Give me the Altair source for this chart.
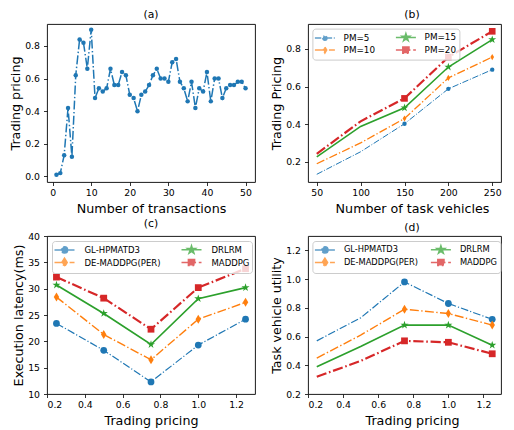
import altair as alt
import pandas as pd
import math

FONT = "DejaVu Sans"
BLUE, ORANGE, GREEN, RED = "#1f77b4", "#ff7f0e", "#2ca02c", "#d62728"

# ---------------- data ----------------
a_x = list(range(1, 51))
a_y = [0.01, 0.02, 0.13, 0.42, 0.12, 0.62, 0.84, 0.82, 0.66, 0.90,
       0.48, 0.54, 0.52, 0.54, 0.66, 0.56, 0.56, 0.64, 0.62, 0.50,
       0.48, 0.40, 0.50, 0.52, 0.56, 0.62, 0.66, 0.60, 0.60, 0.58,
       0.70, 0.72, 0.58, 0.54, 0.46, 0.58, 0.42, 0.54, 0.52, 0.64,
       0.46, 0.60, 0.60, 0.48, 0.54, 0.56, 0.56, 0.58, 0.58, 0.54]

b_x = [50, 100, 150, 200, 250]
b_names = ["PM=5", "PM=10", "PM=15", "PM=20"]
b_pm5 = [0.133, 0.253, 0.402, 0.588, 0.690]
b_pm10 = [0.189, 0.300, 0.430, 0.646, 0.757]
b_pm15 = [0.226, 0.388, 0.487, 0.704, 0.850]
b_pm20 = [0.242, 0.415, 0.537, 0.757, 0.894]

c_x = [0.25, 0.5, 0.75, 1.0, 1.25]
methods = ["GL-HPMATD3", "DE-MADDPG(PER)", "DRLRM", "MADDPG"]
c_gl = [23.4, 18.3, 12.3, 19.3, 24.2]
c_de = [28.4, 21.3, 16.5, 24.2, 27.4]
c_drl = [30.7, 25.3, 19.4, 28.1, 30.2]
c_mad = [32.2, 28.2, 22.3, 30.2, 33.8]

d_x = [0.25, 0.5, 0.75, 1.0, 1.25]
d_gl = [0.57, 0.73, 0.98, 0.83, 0.72]
d_de = [0.45, 0.61, 0.79, 0.76, 0.68]
d_drl = [0.39, 0.53, 0.68, 0.68, 0.54]
d_mad = [0.32, 0.43, 0.57, 0.56, 0.48]


def long_df(xs, names, cols):
    rows = []
    for n, ys in zip(names, cols):
        for x, y in zip(xs, ys):
            rows.append({"x": x, "y": y, "series": n})
    return pd.DataFrame(rows)


df_a = pd.DataFrame({"x": a_x, "y": a_y})
df_b = long_df(b_x, b_names, [b_pm5, b_pm10, b_pm15, b_pm20])
df_c = long_df(c_x, methods, [c_gl, c_de, c_drl, c_mad])
df_d = long_df(d_x, methods, [d_gl, d_de, d_drl, d_mad])

# ---------------- marker shapes ----------------
def circle(r):
    return f"M{r},0A{r},{r},0,1,1,{-r},0A{r},{r},0,1,1,{r},0Z"

def square(h):
    return f"M{-h},{-h}H{h}V{h}H{-h}Z"

def diamond(w, h):
    return f"M0,{-h}L{w},0L0,{h}L{-w},0Z"

def star(R):
    pts = []
    for i in range(10):
        ang = math.radians(-90 + 36 * i)
        rr = R if i % 2 == 0 else R * 0.382
        pts.append(f"{rr * math.cos(ang):.3f},{rr * math.sin(ang):.3f}")
    return "M" + "L".join(pts) + "Z"

LINE = "M-2,0H2"

def dashdot(w):
    return [round(6.4 * w, 2), round(1.7 * w, 2), round(1.0 * w, 2), round(1.7 * w, 2)]

WL, WR, H = 208, 193, 158

# ---------------- helpers ----------------
def base_axes(tx, xdom, xvals, xfmt, xtitle, ydom, yvals, yfmt, ytitle, ytx):
    x = alt.X("x:Q", scale=alt.Scale(domain=xdom, nice=False, zero=False),
              axis=alt.Axis(values=xvals, format=xfmt, title=xtitle,
                            titleX=tx, titleY=30, titleAlign="center",
                            titleBaseline="alphabetic"))
    y = alt.Y("y:Q", scale=alt.Scale(domain=ydom, nice=False, zero=False),
              axis=alt.Axis(values=yvals, format=yfmt, title=ytitle,
                            titleX=ytx, titleY=H / 2, titleAlign="center",
                            titleAngle=270, titleBaseline="alphabetic"))
    return x, y


def series_layers(df, styles, x, y, marker_min=None):
    layers = []
    for name, st in styles:
        base = alt.Chart(df).transform_filter(alt.datum.series == name)
        lkw = dict(color=st["color"], strokeWidth=st["width"])
        if st["dash"]:
            lkw["strokeDash"] = st["dash"]
        layers.append(base.mark_line(**lkw).encode(x=x, y=y))
        pb = base if marker_min is None else base.transform_filter(alt.datum.x >= marker_min)
        layers.append(pb.mark_point(filled=True, opacity=1, color=st["color"],
                                    shape=st["shape"], size=st["size"]).encode(x=x, y=y))
    return layers


def legend_layer(df, styles, order, x, y, lx, ly, fs, colpad, loff):
    sd = dict(styles)
    leg = alt.Legend(title=None, orient="none", legendX=lx, legendY=ly, columns=2,
                     direction="vertical",
                     symbolSize=100, symbolStrokeWidth=1.5, symbolOffset=4,
                     labelOffset=loff, labelFont=FONT, labelFontSize=fs,
                     labelColor="#000", padding=2.5, rowPadding=-2.5,
                     columnPadding=colpad, fillColor="rgba(255,255,255,0.8)",
                     strokeColor="#cccccc", cornerRadius=3)
    colors = [sd[n]["color"] for n in order]
    shapes = [LINE + sd[n]["lshape"] for n in order]
    dashes = [sd[n]["dash"] if sd[n]["dash"] else [1, 0] for n in order]
    return alt.Chart(df).transform_filter("false").mark_point(filled=True).encode(
        x=x, y=y,
        color=alt.Color("series:N", scale=alt.Scale(domain=order, range=colors), legend=leg),
        stroke=alt.Stroke("series:N", scale=alt.Scale(domain=order, range=colors), legend=leg),
        shape=alt.Shape("series:N", scale=alt.Scale(domain=order, range=shapes), legend=leg),
        strokeDash=alt.StrokeDash("series:N", scale=alt.Scale(domain=order, range=dashes), legend=leg),
    )


def ptitle(t, off=4.5, dx=0):
    return alt.Title(t, font=FONT, fontSize=10.8, fontWeight="normal", color="#000",
                     anchor="middle", offset=off, dx=dx)

RX = 104  # centre of right panels' titles (as in the uncropped original)

# ---------------- (a) ----------------
xa, ya = base_axes(WL / 2, [-1.45, 52.45], [0, 10, 20, 30, 40, 50], "d", "Number of transactions",
                   [-0.0345, 0.9345], [0.0, 0.2, 0.4, 0.6, 0.8], ".1f", "Trading pricing", -28)
pa = alt.layer(
    alt.Chart(df_a).mark_line(color=BLUE, strokeWidth=1.5, strokeDash=dashdot(1.4)).encode(x=xa, y=ya),
    alt.Chart(df_a).mark_point(filled=True, opacity=1, color=BLUE, shape="circle", size=20).encode(x=xa, y=ya),
).properties(width=WL, height=H, title=ptitle("(a)"))

# ---------------- (b) ----------------
styles_b = [
    ("PM=5", dict(color=BLUE, width=1.0, dash=dashdot(1.0), shape="circle", size=19, lshape=circle(0.42))),
    ("PM=10", dict(color=ORANGE, width=1.3, dash=dashdot(1.3), shape=diamond(0.6, 1), size=38, lshape=diamond(0.36, 0.6))),
    ("PM=15", dict(color=GREEN, width=1.6, dash=None, shape=star(1), size=70, lshape=star(0.8))),
    ("PM=20", dict(color=RED, width=2.2, dash=dashdot(1.6), shape="square", size=44, lshape=square(0.62))),
]
xb, yb = base_axes(RX, [40, 260], [50, 100, 150, 200, 250], "d", "Number of task vehicles",
                   [0.092, 0.933], [0.2, 0.4, 0.6, 0.8], ".1f", "Trading Pricing", -28)
pb = alt.layer(
    *series_layers(df_b, styles_b, xb, yb, marker_min=150),
    legend_layer(df_b, styles_b, b_names, xb, yb, 4.4, 4.6, 8.8, 17, 12.7),
).properties(width=WR, height=H, title=ptitle("(b)", 4.5, RX - WR / 2))

# ---------------- (c) & (d) ----------------
styles_cd = [
    ("GL-HPMATD3", dict(color=BLUE, width=1.2, dash=dashdot(1.2), shape="circle", size=46, lshape=circle(0.62))),
    ("DE-MADDPG(PER)", dict(color=ORANGE, width=1.4, dash=dashdot(1.4), shape=diamond(0.6, 1), size=81, lshape=diamond(0.54, 0.85))),
    ("DRLRM", dict(color=GREEN, width=1.7, dash=None, shape=star(1), size=72, lshape=star(0.82))),
    ("MADDPG", dict(color=RED, width=2.2, dash=dashdot(1.6), shape="square", size=46, lshape=square(0.62))),
]

xc, yc = base_axes(WL / 2, [0.2, 1.3], [0.2, 0.4, 0.6, 0.8, 1.0, 1.2], ".1f", "Trading pricing",
                   [10, 40], [10, 15, 20, 25, 30, 35, 40], "d", "Execution latency(ms)", -25)
pc = alt.layer(
    *series_layers(df_c, styles_cd, xc, yc),
    legend_layer(df_c, styles_cd, methods, xc, yc, 5, 5, 8.5, 18, 14),
).properties(width=WL, height=H, title=ptitle("(c)", 3))

xd, yd = base_axes(RX, [0.2, 1.3], [0.2, 0.4, 0.6, 0.8, 1.0, 1.2], ".1f", "Trading pricing",
                   [0.2, 1.3], [0.2, 0.4, 0.6, 0.8, 1.0, 1.2], ".1f", "Task vehicle utility", -28)
pd_ = alt.layer(
    *series_layers(df_d, styles_cd, xd, yd, marker_min=0.75),
    legend_layer(df_d, styles_cd, methods, xd, yd, 4.4, 5, 8.3, 9, 13),
).properties(width=WR, height=H, title=ptitle("(d)", 3, RX - WR / 2))

chart = alt.concat(pa, pb, pc, pd_, columns=2, spacing={"row": 54, "column": 53}).properties(
    bounds="flush", padding=0
).resolve_scale(
    color="independent", stroke="independent", shape="independent", strokeDash="independent"
).configure_view(stroke="#000", strokeWidth=0.9).configure_axis(
    grid=False, domain=False, labelFont=FONT, labelFontSize=9.3, labelColor="#000",
    tickColor="#000", tickSize=3.5, tickWidth=0.8, titleFont=FONT, titleFontSize=12.7,
    titleFontWeight="normal", titleColor="#000"
).configure_axisX(labelPadding=3).configure_axisY(labelPadding=4)

chart.save("out.html", embed_options={"renderer": "svg", "actions": False})
